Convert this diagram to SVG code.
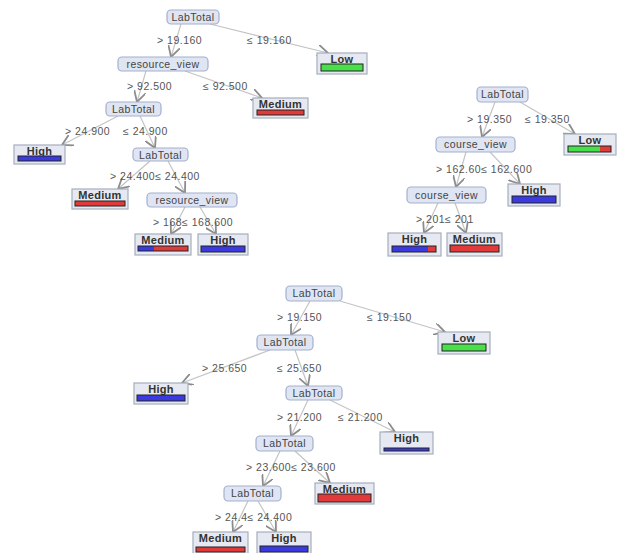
<svg xmlns="http://www.w3.org/2000/svg" width="626" height="553" viewBox="0 0 626 553">
<style>
.n rect{fill:#dfe5f2;stroke:#a3b0cc;stroke-width:1.2}
.n text{font-family:"Liberation Sans",Arial,sans-serif;font-size:10.5px;fill:#444;text-anchor:middle;letter-spacing:0.4px}
.l rect.b{fill:#e6e9f1;stroke:#a6adbd;stroke-width:1.2}
.l text{font-family:"Liberation Sans",Arial,sans-serif;font-size:11px;font-weight:bold;fill:#333;text-anchor:middle;letter-spacing:0.3px}
.bar{stroke:#222;stroke-width:1}
.bl{fill:#3a3ae0}.rd{fill:#e03a3a}.gr{fill:#48e048}
.e line{stroke:#c4c4c4;stroke-width:1.2}
.e text{font-family:"Liberation Sans",Arial,sans-serif;font-size:10.5px;fill:#555;letter-spacing:0.5px}
</style>
<defs>
<marker id="ah" markerUnits="userSpaceOnUse" markerWidth="12" markerHeight="12" viewBox="0 0 10 10" refX="9" refY="5" orient="auto">
<path d="M0,0 L9,5 L0,10" fill="none" stroke="#8c8c8c" stroke-width="1.5"/>
</marker>
</defs>
<rect width="626" height="553" fill="#ffffff"/>
<g id="connectors" class="e">
<line x1="181" y1="24" x2="171" y2="57" marker-end="url(#ah)"/>
<line x1="210" y1="24" x2="328" y2="53" marker-end="url(#ah)"/>
<line x1="146" y1="71" x2="137" y2="102" marker-end="url(#ah)"/>
<line x1="185" y1="71" x2="262" y2="98" marker-end="url(#ah)"/>
<line x1="118" y1="116" x2="62" y2="145" marker-end="url(#ah)"/>
<line x1="140" y1="116" x2="155" y2="148" marker-end="url(#ah)"/>
<line x1="150" y1="161" x2="118" y2="189" marker-end="url(#ah)"/>
<line x1="168" y1="161" x2="185" y2="193" marker-end="url(#ah)"/>
<line x1="185" y1="207" x2="171" y2="234" marker-end="url(#ah)"/>
<line x1="200" y1="207" x2="216" y2="234" marker-end="url(#ah)"/>
<line x1="495" y1="102" x2="482" y2="137" marker-end="url(#ah)"/>
<line x1="520" y1="102" x2="575" y2="134" marker-end="url(#ah)"/>
<line x1="466" y1="152" x2="456" y2="187" marker-end="url(#ah)"/>
<line x1="490" y1="152" x2="520" y2="184" marker-end="url(#ah)"/>
<line x1="438" y1="203" x2="424" y2="233" marker-end="url(#ah)"/>
<line x1="455" y1="203" x2="466" y2="233" marker-end="url(#ah)"/>
<line x1="310" y1="301" x2="291" y2="335" marker-end="url(#ah)"/>
<line x1="340" y1="301" x2="445" y2="332" marker-end="url(#ah)"/>
<line x1="270" y1="350" x2="182" y2="383" marker-end="url(#ah)"/>
<line x1="295" y1="350" x2="308" y2="386" marker-end="url(#ah)"/>
<line x1="308" y1="400" x2="291" y2="436" marker-end="url(#ah)"/>
<line x1="330" y1="400" x2="395" y2="432" marker-end="url(#ah)"/>
<line x1="280" y1="451" x2="263" y2="486" marker-end="url(#ah)"/>
<line x1="295" y1="451" x2="330" y2="483" marker-end="url(#ah)"/>
<line x1="248" y1="501" x2="233" y2="532" marker-end="url(#ah)"/>
<line x1="258" y1="501" x2="276" y2="532" marker-end="url(#ah)"/>
<text x="157" y="44">&gt; 19.160</text>
<text x="247" y="44">≤ 19.160</text>
<text x="127" y="90">&gt; 92.500</text>
<text x="203" y="90">≤ 92.500</text>
<text x="65" y="135">&gt; 24.900</text>
<text x="123" y="135">≤ 24.900</text>
<text x="110" y="180">&gt; 24.400≤ 24.400</text>
<text x="153" y="226">&gt; 168≤ 168.600</text>
<text x="467" y="123">&gt; 19.350</text>
<text x="525" y="123">≤ 19.350</text>
<text x="436" y="173">&gt; 162.60≤ 162.600</text>
<text x="416" y="223">&gt; 201≤ 201</text>
<text x="277" y="321">&gt; 19.150</text>
<text x="367" y="321">≤ 19.150</text>
<text x="202" y="372">&gt; 25.650</text>
<text x="277" y="372">≤ 25.650</text>
<text x="277" y="421">&gt; 21.200</text>
<text x="338" y="421">≤ 21.200</text>
<text x="246" y="471">&gt; 23.600≤ 23.600</text>
<text x="215" y="521">&gt; 24.4≤ 24.400</text>
</g>
<g id="t1-root" class="n"><rect x="167" y="10" width="52" height="14" rx="4"/><text x="193" y="21">LabTotal</text></g>
<g id="t1-low" class="l"><rect class="b" x="317" y="53" width="50" height="21"/><text x="342" y="63">Low</text><rect class="bar gr" x="321" y="64" width="42" height="7"/></g>
<g id="t1-rv1" class="n"><rect x="118" y="57" width="90" height="14" rx="4"/><text x="163" y="68">resource_view</text></g>
<g id="t1-med1" class="l"><rect class="b" x="253" y="98" width="55" height="20"/><text x="280.5" y="108">Medium</text><rect class="bar rd" x="257" y="110" width="47" height="5"/></g>
<g id="t1-lt2" class="n"><rect x="106" y="102" width="55" height="14" rx="4"/><text x="133.5" y="113">LabTotal</text></g>
<g id="t1-high1" class="l"><rect class="b" x="14" y="145" width="51" height="19"/><text x="39.5" y="155">High</text><rect class="bar bl" x="18" y="156" width="43" height="5"/></g>
<g id="t1-lt3" class="n"><rect x="133" y="148" width="55" height="13" rx="4"/><text x="160.5" y="158.5">LabTotal</text></g>
<g id="t1-med2" class="l"><rect class="b" x="72" y="189" width="56" height="20"/><text x="100" y="199">Medium</text><rect class="bar rd" x="75" y="201" width="50" height="5"/></g>
<g id="t1-rv2" class="n"><rect x="147" y="193" width="90" height="14" rx="4"/><text x="192" y="204">resource_view</text></g>
<g id="t1-med3" class="l"><rect class="b" x="135" y="234" width="56" height="21"/><text x="163" y="244">Medium</text><rect class="bl" x="138" y="246" width="16" height="5"/><rect class="rd" x="154" y="246" width="34" height="5"/><rect x="138" y="246" width="50" height="5" fill="none" stroke="#222"/></g>
<g id="t1-high2" class="l"><rect class="b" x="198" y="234" width="50" height="21"/><text x="223" y="244">High</text><rect class="bar bl" x="201" y="246" width="44" height="6"/></g>
<g id="t2-root" class="n"><rect x="477" y="87" width="51" height="15" rx="4"/><text x="502.5" y="98">LabTotal</text></g>
<g id="t2-low" class="l"><rect class="b" x="564" y="134" width="52" height="21"/><text x="590" y="144">Low</text><rect class="gr" x="568" y="146" width="32" height="6"/><rect class="rd" x="600" y="146" width="11" height="6"/><rect x="568" y="146" width="43" height="6" fill="none" stroke="#222"/></g>
<g id="t2-cv1" class="n"><rect x="436" y="137" width="79" height="15" rx="4"/><text x="475.5" y="148">course_view</text></g>
<g id="t2-high1" class="l"><rect class="b" x="508" y="184" width="52" height="22"/><text x="534" y="194">High</text><rect class="bar bl" x="512" y="196" width="44" height="7"/></g>
<g id="t2-cv2" class="n"><rect x="407" y="187" width="79" height="16" rx="4"/><text x="446.5" y="198.5">course_view</text></g>
<g id="t2-high2" class="l"><rect class="b" x="388" y="233" width="53" height="23"/><text x="414.5" y="243">High</text><rect class="bl" x="392" y="246" width="36" height="6"/><rect class="rd" x="428" y="246" width="8" height="6"/><rect x="392" y="246" width="44" height="6" fill="none" stroke="#222"/></g>
<g id="t2-med" class="l"><rect class="b" x="447" y="233" width="55" height="23"/><text x="474.5" y="243">Medium</text><rect class="bar rd" x="450" y="245" width="49" height="7"/></g>
<g id="t3-root" class="n"><rect x="286" y="286" width="56" height="15" rx="4"/><text x="314" y="297">LabTotal</text></g>
<g id="t3-low" class="l"><rect class="b" x="438" y="332" width="52" height="22"/><text x="464" y="342">Low</text><rect class="bar gr" x="442" y="344" width="44" height="7"/></g>
<g id="t3-lt2" class="n"><rect x="257" y="335" width="56" height="15" rx="4"/><text x="285" y="346">LabTotal</text></g>
<g id="t3-high1" class="l"><rect class="b" x="134" y="383" width="54" height="21"/><text x="161" y="393">High</text><rect class="bar bl" x="137" y="395" width="48" height="6"/></g>
<g id="t3-lt3" class="n"><rect x="286" y="386" width="56" height="14" rx="4"/><text x="314" y="397">LabTotal</text></g>
<g id="t3-high2" class="l"><rect class="b" x="380" y="432" width="53" height="22"/><text x="406.5" y="442">High</text><rect class="bar bl" x="384" y="448" width="45" height="3"/></g>
<g id="t3-lt4" class="n"><rect x="256" y="436" width="57" height="15" rx="4"/><text x="284.5" y="447">LabTotal</text></g>
<g id="t3-med1" class="l"><rect class="b" x="315" y="483" width="59" height="21"/><text x="344.5" y="493">Medium</text><rect class="bar rd" x="318" y="494" width="53" height="8"/></g>
<g id="t3-lt5" class="n"><rect x="224" y="486" width="57" height="15" rx="4"/><text x="252.5" y="497">LabTotal</text></g>
<g id="t3-med2" class="l"><rect class="b" x="193" y="532" width="55" height="22"/><text x="220.5" y="542">Medium</text><rect class="bar rd" x="196" y="547" width="49" height="5"/></g>
<g id="t3-high3" class="l"><rect class="b" x="257" y="532" width="54" height="22"/><text x="284" y="542">High</text><rect class="bar bl" x="260" y="546" width="48" height="6"/></g>
</svg>
